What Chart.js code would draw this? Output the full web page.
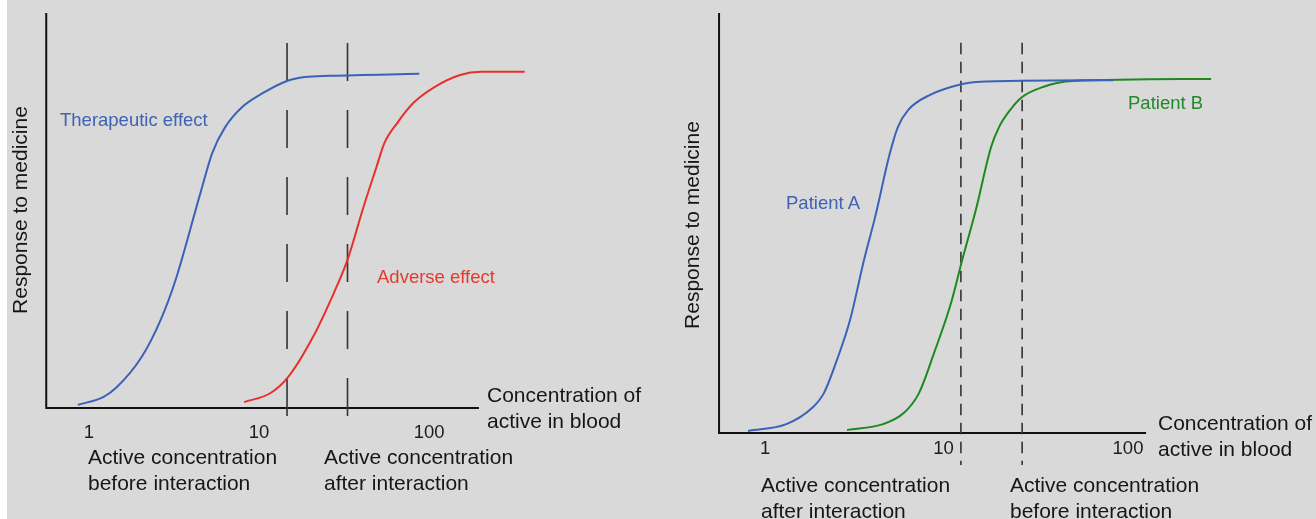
<!DOCTYPE html>
<html>
<head>
<meta charset="utf-8">
<script src="https://cdn.jsdelivr.net/npm/chart.js@4.4.0/dist/chart.umd.min.js"></script>
<style>
  html, body { margin: 0; padding: 0; }
  body {
    width: 1316px; height: 519px; position: relative; overflow: hidden;
    background: #d9d9d9; color: #161616;
    font-family: "Liberation Sans", Arial, sans-serif;
  }
  #strip { position: absolute; left: 0; top: 0; width: 7px; height: 519px; background: #fff; }
  canvas { position: absolute; top: 0; }
  #leftChart { left: 0; }
  #rightChart { left: 656px; }
  .lbl { position: absolute; white-space: nowrap; }
  .big { font-size: 21px; line-height: 25.5px; }
  .small { font-size: 18.5px; line-height: 22px; }
  .ytitle { font-size: 21px; line-height: 24px; width: 230px; text-align: center; transform: rotate(-90deg); }
</style>
</head>
<body>
<div id="strip"></div>
<canvas id="leftChart" width="656" height="519"></canvas>
<canvas id="rightChart" width="660" height="519"></canvas>

<!-- left panel texts -->
<div class="lbl ytitle" style="left:-95px; top:198px;">Response to medicine</div>
<div class="lbl small" style="left:60px; top:109px; color:#3d63b3;">Therapeutic effect</div>
<div class="lbl small" style="left:377px; top:266px; color:#e23b2e;">Adverse effect</div>
<div class="lbl big" style="left:487px; top:382px;">Concentration of<br>active in blood</div>
<div class="lbl big" style="left:88px; top:444px;">Active concentration<br>before interaction</div>
<div class="lbl big" style="left:324px; top:444px;">Active concentration<br>after interaction</div>

<!-- right panel texts -->
<div class="lbl ytitle" style="left:577px; top:213px;">Response to medicine</div>
<div class="lbl small" style="left:786px; top:192px; color:#3d63b3;">Patient A</div>
<div class="lbl small" style="left:1128px; top:92px; color:#22892a;">Patient B</div>
<div class="lbl big" style="left:1158px; top:410px;">Concentration of<br>active in blood</div>
<div class="lbl big" style="left:761px; top:472px;">Active concentration<br>after interaction</div>
<div class="lbl big" style="left:1010px; top:472px;">Active concentration<br>before interaction</div>

<script>
// Left panel: therapeutic vs adverse effect (x = concentration, y = response)
const therapeuticX = [0.86, 1.22, 1.46, 2.04, 2.64, 3.23, 4.52, 5.31, 6.32, 7.96, 10.5, 14.6, 18.6, 26.0, 87.4];
const therapeuticY = [0.8, 2.8, 5.3, 12.9, 22.3, 32.4, 54.4, 64.6, 71.1, 76.2, 79.7, 82.8, 83.8, 84.1, 84.6];
const adverseX = [8.17, 11.7, 14.8, 20.7, 27.5, 33.1, 41.1, 49.0, 54.6, 65.0, 80.6, 108, 152, 201, 364];
const adverseY = [1.5, 3.8, 7.8, 17.9, 29.1, 37.5, 50.9, 61.0, 67.1, 72.2, 77.2, 81.3, 84.3, 85.1, 85.1];
const leftMarkers = [14.6, 33.1];

// Right panel: patient A vs patient B
const patientAX = [0.806, 1.31, 1.82, 2.11, 2.49, 2.94, 3.51, 4.04, 4.88, 5.40, 6.14, 8.11, 12.2, 14.5, 82.6];
const patientAY = [0.5, 2.1, 6.0, 9.5, 17.4, 26.9, 41.2, 51.4, 66.7, 72.9, 76.9, 80.5, 83.1, 83.6, 84.0];
const patientBX = [2.83, 4.47, 5.83, 7.05, 8.53, 10.6, 12.2, 14.5, 17.6, 19.5, 22.4, 26.1, 34.0, 49.8, 287];
const patientBY = [0.7, 2.1, 4.8, 9.5, 19.0, 31.0, 41.2, 53.1, 68.1, 72.9, 76.9, 80.0, 82.4, 83.8, 84.3];
const rightMarkers = [12.0, 26.1];

const tickValues = [1, 10, 100];

function toPoints(xs, ys) {
  return xs.map((x, i) => ({ x: x, y: ys[i] }));
}

function curve(xs, ys, color) {
  return {
    data: toPoints(xs, ys),
    borderColor: color,
    borderWidth: 2,
    pointRadius: 0,
    cubicInterpolationMode: "monotone",
    fill: false
  };
}

function marker(x, top, bottom, dash) {
  return {
    data: [{ x: x, y: top }, { x: x, y: bottom }],
    borderColor: "#333",
    borderWidth: 1.6,
    borderDash: dash,
    pointRadius: 0,
    tension: 0,
    fill: false
  };
}

function axes(xStart, xEnd) {
  return {
    data: [{ x: xStart, y: 100 }, { x: xStart, y: 0 }, { x: xEnd, y: 0 }],
    borderColor: "#111",
    borderWidth: 2,
    pointRadius: 0,
    tension: 0,
    fill: false
  };
}

// draws 1 / 10 / 100 under the x axis
const tickPlugin = {
  id: "tickLabels",
  afterDatasetsDraw(chart, args, opts) {
    const ctx = chart.ctx;
    const xs = chart.scales.x;
    const ys = chart.scales.y;
    ctx.save();
    ctx.font = "18.5px 'Liberation Sans', Arial, sans-serif";
    ctx.fillStyle = "#1c1c1c";
    ctx.textBaseline = "middle";
    ctx.textAlign = "center";
    tickValues.forEach(v => {
      ctx.fillText(String(v), xs.getPixelForValue(v) + (opts.shift[String(v)] || 0), ys.getPixelForValue(0) + opts.gap);
    });
    ctx.restore();
  }
};

function makeChart(id, datasets, xMin, xMax, yMin, yMax, tickOpts) {
  return new Chart(document.getElementById(id), {
    type: "line",
    data: { datasets },
    options: {
      responsive: false,
      animation: false,
      layout: { padding: 0 },
      plugins: { legend: { display: false }, tooltip: { enabled: false }, tickLabels: tickOpts },
      scales: {
        x: { type: "logarithmic", min: xMin, max: xMax, display: false },
        y: { type: "linear", min: yMin, max: yMax, display: false }
      }
    },
    plugins: [tickPlugin]
  });
}

makeChart("leftChart", [
  curve(therapeuticX, therapeuticY, "#3a62b6"),
  curve(adverseX, adverseY, "#e8302a"),
  marker(leftMarkers[0], 92.4, -4.3, [38, 29]),
  marker(leftMarkers[1], 92.4, -4.3, [38, 29]),
  axes(0.561, 196)
], 0.314, 2154, -28.1, 103.29, { gap: 25, shift: {} });

makeChart("rightChart", [
  curve(patientAX, patientAY, "#3a62b6"),
  curve(patientBX, patientBY, "#1e8a1e"),
  marker(rightMarkers[0], 92.9, -7.6, [11.5, 7.5]),
  marker(rightMarkers[1], 92.9, -7.6, [11.5, 7.5]),
  axes(0.558, 125.7)
], 0.2507, 1086, -20.48, 103.1, { gap: 16, shift: { "10": -3 } });
</script>
</body>
</html>
